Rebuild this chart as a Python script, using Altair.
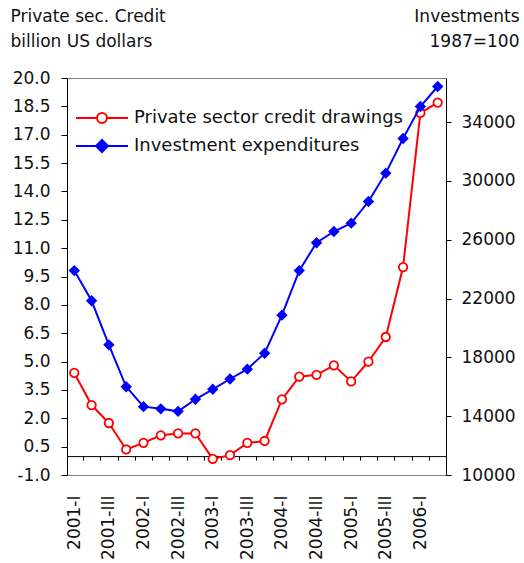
import altair as alt
import pandas as pd

# Quarterly observations, 2001-I .. 2006-II
quarters = [
    "2001-I", "2001-II", "2001-III", "2001-IV",
    "2002-I", "2002-II", "2002-III", "2002-IV",
    "2003-I", "2003-II", "2003-III", "2003-IV",
    "2004-I", "2004-II", "2004-III", "2004-IV",
    "2005-I", "2005-II", "2005-III", "2005-IV",
    "2006-I", "2006-II",
]
# Private sector credit drawings, billion US dollars (left axis)
credit = [4.4, 2.7, 1.75, 0.35, 0.7, 1.1, 1.2, 1.2, -0.15, 0.05, 0.7, 0.8,
          3.0, 4.2, 4.3, 4.8, 3.95, 5.0, 6.3, 10.0, 18.15, 18.7]
# Investment expenditures, 1987=100 (right axis)
invest = [23900, 21850, 18850, 16000, 14650, 14500, 14330, 15150, 15830, 16530,
          17200, 18280, 20870, 23900, 25800, 26560, 27130, 28600, 30530, 32890,
          35060, 36420]

series_names = ["Private sector credit drawings", "Investment expenditures"]
series_colors = ["#FF0000", "#0000FF"]

left_ticks = [-1.0, 0.5, 2.0, 3.5, 5.0, 6.5, 8.0, 9.5, 11.0, 12.5, 14.0, 15.5,
              17.0, 18.5, 20.0]
right_ticks = [10000, 14000, 18000, 22000, 26000, 30000, 34000]
label_quarters = list(range(0, len(quarters), 2))
boundary_ticks = [i + 0.5 for i in range(len(quarters) - 1)]

W, H = 379, 397
left_domain = [-1.0, 20.0]
# distance of the zero line above the bottom edge, in pixels
zero_offset = H * (0 - left_domain[0]) / (left_domain[1] - left_domain[0])

df = pd.DataFrame({"i": list(range(len(quarters))), "quarter": quarters,
                   "credit": credit, "invest": invest})
legend_df = pd.DataFrame({"series": series_names})

FONT = "DejaVu Sans"
TXT = "#111111"
FS = 17

xscale = alt.Scale(domain=[-0.42, len(quarters) - 0.52], nice=False, zero=False)
label_expr = "[" + ",".join(f"'{q}'" for q in quarters) + "][datum.value]"

x_labels = alt.X(
    "i:Q", scale=xscale,
    axis=alt.Axis(orient="bottom", values=label_quarters, labelExpr=label_expr,
                  labelAngle=-90, ticks=False, tickSize=0, domain=False,
                  grid=False, labelPadding=20, labelFlush=False,
                  labelOverlap=False, title=None),
)
# zero line with quarter separators
x_zero = alt.X(
    "i:Q", scale=xscale,
    axis=alt.Axis(orient="bottom", offset=-zero_offset, values=boundary_ticks,
                  labels=False, ticks=True, tickSize=4, tickColor="#000",
                  domain=True, domainColor="#000", grid=False, title=None),
)

y_left = alt.Y(
    "credit:Q",
    scale=alt.Scale(domain=left_domain, nice=False, zero=False),
    axis=alt.Axis(orient="left", values=left_ticks, format=".1f",
                  labelExpr="replace(datum.label, '\u2212', '-')", tickSize=6,
                  tickColor="#000", domainColor="#000", labelPadding=11,
                  grid=False, title=["Private sec. Credit", "billion US dollars"],
                  titleAngle=0, titleAlign="left", titleBaseline="alphabetic",
                  titleX=-57, titleY=-57, titleLineHeight=25),
)
y_right = alt.Y(
    "invest:Q",
    scale=alt.Scale(domain=[10000, 37000], nice=False, zero=False),
    axis=alt.Axis(orient="right", values=right_ticks, format="d", tickSize=5,
                  tickColor="#000", domainColor="#000", labelPadding=10,
                  grid=False, title=["Investments", "1987=100"],
                  titleAngle=0, titleAlign="right", titleBaseline="alphabetic",
                  titleX=73, titleY=-57, titleLineHeight=25),
)

base = alt.Chart(df)

credit_layer = alt.layer(
    base.mark_line(color=series_colors[0], strokeWidth=2).encode(x=x_labels, y=y_left),
    base.mark_point(shape="circle", size=72, filled=True, fill="white",
                    stroke=series_colors[0], strokeWidth=1.8, opacity=1)
        .encode(x=x_labels, y=y_left),
)

invest_layer = alt.layer(
    base.mark_line(color=series_colors[1], strokeWidth=2).encode(x=x_zero, y=y_right),
    base.mark_point(shape="diamond", size=130, filled=True,
                    color=series_colors[1], opacity=1)
        .encode(x=x_zero, y=y_right),
)

# legend symbols: a line segment with the series marker at its middle
# (symbol unit = 10 px; the segment runs from -1 to 4.2, marker at 1.6)
circle_sym = ("M-1,0H1.1"
              "M2.1,0A0.5,0.5,0,1,1,1.1,0A0.5,0.5,0,1,1,2.1,0Z"
              "M2.1,0H4.2")
diamond_sym = ("M-1,0H4.2"
               "M1.6,-0.6L2.2,0L1.6,0.6L1,0Z"
               "M1.6,-0.42L2.02,0L1.6,0.42L1.18,0Z"
               "M1.6,-0.25L1.85,0L1.6,0.25L1.35,0Z"
               "M1.6,-0.1L1.7,0L1.6,0.1L1.5,0Z")

leg = alt.Legend(title=None, orient="none", legendX=8, legendY=29,
                 symbolSize=400, symbolStrokeWidth=2, symbolOpacity=1,
                 labelFontSize=18, labelColor=TXT, labelOffset=37,
                 labelLimit=400, rowPadding=8, labelFont=FONT)

legend_layer = alt.Chart(legend_df).mark_point(opacity=0, filled=False, strokeWidth=2).encode(
    color=alt.Color("series:N", scale=alt.Scale(domain=series_names, range=series_colors),
                    legend=leg),
    shape=alt.Shape("series:N", scale=alt.Scale(domain=series_names,
                                                range=[circle_sym, diamond_sym]),
                    legend=leg),
)

chart = (
    alt.layer(credit_layer, invest_layer, legend_layer)
    .resolve_scale(y="independent")
    .resolve_axis(x="independent")
    .properties(width=W, height=H, autosize="none",
                padding={"left": 67, "top": 78, "right": 524 - 67 - W,
                         "bottom": 563 - 78 - H})
    .configure(font=FONT, background="white")
    .configure_view(stroke="#808080", strokeWidth=1)
    .configure_axis(labelColor=TXT, titleColor=TXT, labelFontSize=FS,
                    titleFontSize=FS, titleFontWeight="normal", labelFont=FONT,
                    titleFont=FONT)
)

chart.save("out.html", embed_options={"renderer": "svg", "actions": False})
